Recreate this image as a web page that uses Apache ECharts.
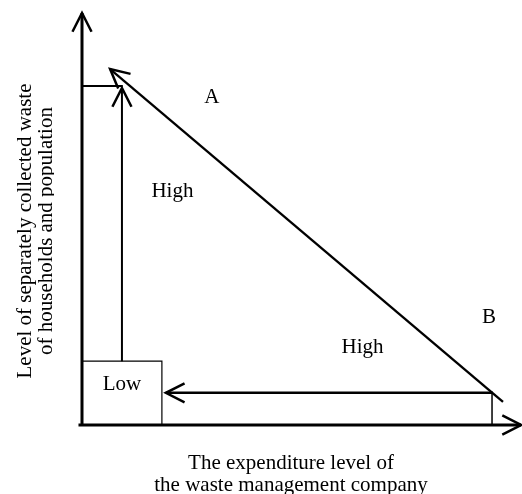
<!DOCTYPE html>
<html>
<head>
<meta charset="utf-8">
<style>
  html, body { margin: 0; padding: 0; background: #fff; }
  #chart { width: 522px; height: 494px; }
</style>
<script src="https://cdn.jsdelivr.net/npm/echarts@6/dist/echarts.min.js"></script>
</head>
<body>
<div id="chart"></div>
<script>
// ---- Data (diagram coordinates, 0..100 on both axes) ----
const segmentNames   = ['yAxis', 'xAxis', 'topTick', 'riseArrow', 'diagonal', 'returnArrow', 'dropLine'];
const segmentFrom    = [[0, 0], [-0.8, 0], [0, 82.3], [9.1, 15.5], [95.9, 5.6], [93.6, 7.8], [93.4, 7.8]];
const segmentTo      = [[0, 100], [100, 0], [9.3, 82.3], [9.1, 81.8], [6.4, 86.4], [19.1, 7.8], [93.4, 0]];
const segmentHasHead = [1, 1, 0, 1, 1, 1, 0];

const boxCorners = [[0, 0], [18.2, 15.5]];      // "Low" box
const labelTexts = ['A', 'High', 'B', 'High', 'Low'];
const labelPoints = [[29.6, 79.6], [20.6, 56.6], [92.7, 26.2], [63.9, 18.9], [9.1, 9.8]];

const xTitleLines = ['The expenditure level of', 'the waste management company'];
const yTitleLines = ['Level of separately collected waste', 'of households and population'];

// ---- Styles ----
const FONT = '"Liberation Serif", "Times New Roman", serif';
const lineWidthByName = { yAxis: 3, xAxis: 3, topTick: 2, riseArrow: 2, diagonal: 2.3, returnArrow: 2.5, dropLine: 1.5 };
const HEAD_LEN = 21, HEAD_ANGLE = 27 * Math.PI / 180;

const segmentData = segmentNames.map((n, i) => [segmentFrom[i][0], segmentFrom[i][1], segmentTo[i][0], segmentTo[i][1], segmentHasHead[i]]);
const labelData = labelTexts.map((t, i) => [labelPoints[i][0], labelPoints[i][1], t]);

const chart = echarts.init(document.getElementById('chart'), null, { renderer: 'canvas' });

chart.setOption({
  backgroundColor: '#ffffff',
  animation: false,
  grid: { left: 82, right: 1, top: 13, bottom: 69, containLabel: false },
  xAxis: { type: 'value', min: 0, max: 100, show: false },
  yAxis: { type: 'value', min: 0, max: 100, show: false },
  graphic: [
    {
      type: 'text', x: 291, y: 474,
      style: { text: xTitleLines.join('\n'), font: '21px ' + FONT, fill: '#000', align: 'center', verticalAlign: 'middle', lineHeight: 22 }
    },
    {
      type: 'text', x: 35.5, y: 231, rotation: Math.PI / 2,
      style: { text: yTitleLines.join('\n'), font: '21px ' + FONT, fill: '#000', align: 'center', verticalAlign: 'middle', lineHeight: 21 }
    },
    { type: 'rect', shape: { x: 54, y: 60, width: 8, height: 300 }, style: { fill: '#ffffff' }, z: 100 }
  ],
  series: [
    {
      type: 'custom',
      name: 'box',
      clip: false,
      data: [[boxCorners[0][0], boxCorners[0][1], boxCorners[1][0], boxCorners[1][1]]],
      renderItem: function (params, api) {
        const a = api.coord([api.value(0), api.value(1)]);
        const b = api.coord([api.value(2), api.value(3)]);
        return {
          type: 'rect',
          shape: { x: Math.min(a[0], b[0]), y: Math.min(a[1], b[1]), width: Math.abs(b[0] - a[0]), height: Math.abs(b[1] - a[1]) },
          style: { fill: 'none', stroke: '#000', lineWidth: 1.2 }
        };
      }
    },
    {
      type: 'custom',
      name: 'segments',
      clip: false,
      data: segmentData,
      renderItem: function (params, api) {
        const p1 = api.coord([api.value(0), api.value(1)]);
        const p2 = api.coord([api.value(2), api.value(3)]);
        const head = api.value(4);
        const lw = lineWidthByName[segmentNames[params.dataIndex]];
        const children = [{
          type: 'line',
          shape: { x1: p1[0], y1: p1[1], x2: p2[0], y2: p2[1] },
          style: { stroke: '#000', lineWidth: lw, lineCap: 'butt' }
        }];
        if (head) {
          const ang = Math.atan2(p2[1] - p1[1], p2[0] - p1[0]);
          const a1 = ang + Math.PI - HEAD_ANGLE, a2 = ang + Math.PI + HEAD_ANGLE;
          children.push({
            type: 'polyline',
            shape: { points: [
              [p2[0] + HEAD_LEN * Math.cos(a1), p2[1] + HEAD_LEN * Math.sin(a1)],
              [p2[0], p2[1]],
              [p2[0] + HEAD_LEN * Math.cos(a2), p2[1] + HEAD_LEN * Math.sin(a2)]
            ] },
            style: { stroke: '#000', fill: 'none', lineWidth: 2.5, lineJoin: 'miter' }
          });
        }
        return { type: 'group', children: children };
      }
    },
    {
      type: 'custom',
      name: 'labels',
      clip: false,
      data: labelData,
      renderItem: function (params, api) {
        const p = api.coord([api.value(0), api.value(1)]);
        return {
          type: 'text',
          x: p[0], y: p[1],
          style: { text: labelTexts[params.dataIndex], font: '21px ' + FONT, fill: '#000', align: 'center', verticalAlign: 'middle' }
        };
      }
    }
  ]
});
</script>
</body>
</html>
